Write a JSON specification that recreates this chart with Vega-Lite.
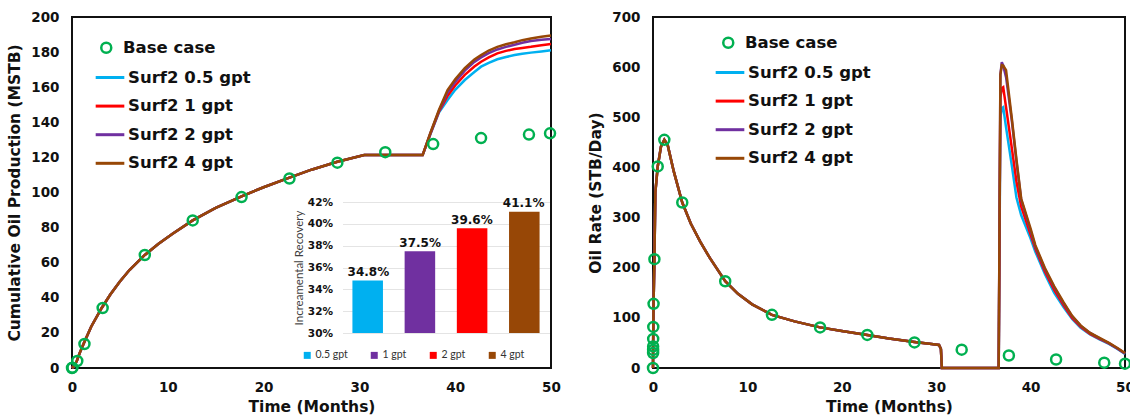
{
  "$schema": "https://vega.github.io/schema/vega-lite/v6.json",
  "background": "white",
  "padding": {"left": 6, "top": 9, "right": 0, "bottom": 0},
  "bounds": "flush",
  "spacing": 102,
  "config": {
    "view": {"stroke": "#111111", "strokeWidth": 2},
    "font": "DejaVu Sans",
    "axis": {
      "labelFont": "DejaVu Sans", "labelFontWeight": "bold", "labelFontSize": 13.5, "labelColor": "#111111",
      "titleFont": "DejaVu Sans", "titleFontWeight": "bold", "titleFontSize": 15.5, "titleColor": "#111111",
      "ticks": false, "domain": false, "grid": false,
      "labelFlush": false, "labelOverlap": false, "labelBound": false
    },
    "legend": {
      "padding": 0, "rowPadding": 3.6, "labelFont": "DejaVu Sans", "labelFontWeight": "bold",
      "labelFontSize": 16.5, "labelColor": "#111111"
    }
  },
  "datasets": {
    "cum": [
      {"t": 0, "a": 0, "b": 0, "c": 0, "d": 0},
      {"t": 0.2, "a": 1, "b": 1, "c": 1, "d": 1},
      {"t": 0.5, "a": 4, "b": 4, "c": 4, "d": 4},
      {"t": 0.8, "a": 8.5, "b": 8.5, "c": 8.5, "d": 8.5},
      {"t": 1.2, "a": 13.7, "b": 13.7, "c": 13.7, "d": 13.7},
      {"t": 2, "a": 23.5, "b": 23.5, "c": 23.5, "d": 23.5},
      {"t": 3.1, "a": 34.2, "b": 34.2, "c": 34.2, "d": 34.2},
      {"t": 4, "a": 41.9, "b": 41.9, "c": 41.9, "d": 41.9},
      {"t": 5, "a": 49.3, "b": 49.3, "c": 49.3, "d": 49.3},
      {"t": 6, "a": 55.8, "b": 55.8, "c": 55.8, "d": 55.8},
      {"t": 7.6, "a": 64.4, "b": 64.4, "c": 64.4, "d": 64.4},
      {"t": 9, "a": 70.6, "b": 70.6, "c": 70.6, "d": 70.6},
      {"t": 10.5, "a": 76.5, "b": 76.5, "c": 76.5, "d": 76.5},
      {"t": 12.6, "a": 84.1, "b": 84.1, "c": 84.1, "d": 84.1},
      {"t": 15, "a": 91.2, "b": 91.2, "c": 91.2, "d": 91.2},
      {"t": 17.7, "a": 97.8, "b": 97.8, "c": 97.8, "d": 97.8},
      {"t": 20, "a": 103, "b": 103, "c": 103, "d": 103},
      {"t": 22.7, "a": 108.5, "b": 108.5, "c": 108.5, "d": 108.5},
      {"t": 25, "a": 113, "b": 113, "c": 113, "d": 113},
      {"t": 27.7, "a": 117.5, "b": 117.5, "c": 117.5, "d": 117.5},
      {"t": 30.5, "a": 121.3, "b": 121.3, "c": 121.3, "d": 121.3},
      {"t": 36.6, "a": 121.3, "b": 121.3, "c": 121.3, "d": 121.3},
      {"t": 37.4, "a": 133, "b": 133.3, "c": 133.6, "d": 133.8},
      {"t": 38.3, "a": 145.5, "b": 146, "c": 146.5, "d": 147},
      {"t": 39.2, "a": 152.7, "b": 155, "c": 157, "d": 158.4},
      {"t": 40, "a": 158.5, "b": 161, "c": 163, "d": 164.5},
      {"t": 41, "a": 164.1, "b": 167, "c": 169.4, "d": 170.8},
      {"t": 42, "a": 168.7, "b": 171.8, "c": 174.4, "d": 175.8},
      {"t": 42.7, "a": 171.7, "b": 174.5, "c": 177, "d": 178.3},
      {"t": 43.5, "a": 173.9, "b": 177, "c": 179.4, "d": 180.9},
      {"t": 44.4, "a": 175.9, "b": 179.3, "c": 181.5, "d": 183},
      {"t": 45.3, "a": 177.2, "b": 180.7, "c": 183, "d": 184.5},
      {"t": 46.2, "a": 178.3, "b": 181.8, "c": 184.2, "d": 185.6},
      {"t": 47, "a": 179, "b": 182.4, "c": 185.3, "d": 186.8},
      {"t": 47.9, "a": 179.7, "b": 183, "c": 186.3, "d": 187.8},
      {"t": 49, "a": 180.4, "b": 183.9, "c": 187, "d": 188.8},
      {"t": 50, "a": 181, "b": 184.6, "c": 187.5, "d": 189.5}
    ],
    "cumBase": [
      {"s": "Base case", "t": 0, "v": 0},
      {"s": "Base case", "t": 0.05, "v": 0.2},
      {"s": "Base case", "t": 0.55, "v": 4},
      {"s": "Base case", "t": 1.3, "v": 13.7},
      {"s": "Base case", "t": 3.2, "v": 34.2},
      {"s": "Base case", "t": 7.6, "v": 64.4},
      {"s": "Base case", "t": 12.6, "v": 84.1},
      {"s": "Base case", "t": 17.7, "v": 97.4},
      {"s": "Base case", "t": 22.7, "v": 108},
      {"s": "Base case", "t": 27.7, "v": 117},
      {"s": "Base case", "t": 32.7, "v": 123},
      {"s": "Base case", "t": 37.7, "v": 127.6},
      {"s": "Base case", "t": 42.7, "v": 131},
      {"s": "Base case", "t": 47.7, "v": 133},
      {"s": "Base case", "t": 49.9, "v": 133.7}
    ],
    "inc": [
      {"k": "0.5 gpt", "v": 34.8, "lbl": "34.8%"},
      {"k": "1 gpt", "v": 37.5, "lbl": "37.5%"},
      {"k": "2 gpt", "v": 39.6, "lbl": "39.6%"},
      {"k": "4 gpt", "v": 41.1, "lbl": "41.1%"}
    ],
    "rate": [
      {"t": 0, "a": 0, "b": 0, "c": 0, "d": 0},
      {"t": 0.02, "a": 60, "b": 60, "c": 60, "d": 60},
      {"t": 0.06, "a": 128, "b": 128, "c": 128, "d": 128},
      {"t": 0.15, "a": 217, "b": 217, "c": 217, "d": 217},
      {"t": 0.25, "a": 350, "b": 350, "c": 350, "d": 350},
      {"t": 0.5, "a": 402, "b": 402, "c": 402, "d": 402},
      {"t": 0.85, "a": 442, "b": 442, "c": 442, "d": 442},
      {"t": 1.2, "a": 455, "b": 455, "c": 455, "d": 455},
      {"t": 1.55, "a": 445, "b": 445, "c": 445, "d": 445},
      {"t": 2.2, "a": 392, "b": 392, "c": 392, "d": 392},
      {"t": 3.1, "a": 330, "b": 330, "c": 330, "d": 330},
      {"t": 4, "a": 288, "b": 288, "c": 288, "d": 288},
      {"t": 5, "a": 252, "b": 252, "c": 252, "d": 252},
      {"t": 6, "a": 220, "b": 220, "c": 220, "d": 220},
      {"t": 7.65, "a": 173, "b": 173, "c": 173, "d": 173},
      {"t": 9, "a": 148, "b": 148, "c": 148, "d": 148},
      {"t": 10.5, "a": 127, "b": 127, "c": 127, "d": 127},
      {"t": 12.6, "a": 106, "b": 106, "c": 106, "d": 106},
      {"t": 15, "a": 93, "b": 93, "c": 93, "d": 93},
      {"t": 17.7, "a": 81, "b": 81, "c": 81, "d": 81},
      {"t": 20, "a": 74, "b": 74, "c": 74, "d": 74},
      {"t": 22.7, "a": 66, "b": 66, "c": 66, "d": 66},
      {"t": 25, "a": 59, "b": 59, "c": 59, "d": 59},
      {"t": 27.7, "a": 52, "b": 52, "c": 52, "d": 52},
      {"t": 29.5, "a": 48, "b": 48, "c": 48, "d": 48},
      {"t": 30.3, "a": 46, "b": 46, "c": 46, "d": 46},
      {"t": 30.5, "a": 38, "b": 38, "c": 38, "d": 38},
      {"t": 30.6, "a": 0, "b": 0, "c": 0, "d": 0},
      {"t": 36.62, "a": 0, "b": 0, "c": 0, "d": 0},
      {"t": 36.8, "a": 500, "b": 540, "c": 585, "d": 585},
      {"t": 36.95, "a": 518, "b": 558, "c": 610, "d": 604},
      {"t": 37.1, "a": 520, "b": 560, "c": 603, "d": 603},
      {"t": 37.4, "a": 480, "b": 520, "c": 580, "d": 594},
      {"t": 38, "a": 405, "b": 440, "c": 495, "d": 500},
      {"t": 38.5, "a": 340, "b": 372, "c": 412, "d": 416},
      {"t": 39, "a": 305, "b": 322, "c": 336, "d": 338},
      {"t": 40, "a": 258, "b": 266, "c": 274, "d": 278},
      {"t": 40.5, "a": 232, "b": 238, "c": 242, "d": 245},
      {"t": 41.5, "a": 188, "b": 193, "c": 198, "d": 200},
      {"t": 42.5, "a": 150, "b": 156, "c": 161, "d": 163},
      {"t": 43.5, "a": 121, "b": 125, "c": 129, "d": 131},
      {"t": 44.4, "a": 98, "b": 100, "c": 103, "d": 104},
      {"t": 45.3, "a": 80, "b": 82, "c": 84, "d": 85},
      {"t": 46.3, "a": 67, "b": 68, "c": 70, "d": 70},
      {"t": 47.3, "a": 57, "b": 58, "c": 59, "d": 60},
      {"t": 48.3, "a": 48, "b": 49, "c": 49, "d": 50},
      {"t": 49.2, "a": 38, "b": 39, "c": 39, "d": 40},
      {"t": 50, "a": 28, "b": 29, "c": 29, "d": 30}
    ],
    "rateBase": [
      {"s": "Base case", "t": 0, "v": 0},
      {"s": "Base case", "t": 0.01, "v": 30},
      {"s": "Base case", "t": 0.012, "v": 36},
      {"s": "Base case", "t": 0.015, "v": 43},
      {"s": "Base case", "t": 0.02, "v": 58},
      {"s": "Base case", "t": 0.03, "v": 82},
      {"s": "Base case", "t": 0.06, "v": 128},
      {"s": "Base case", "t": 0.15, "v": 217},
      {"s": "Base case", "t": 0.5, "v": 402},
      {"s": "Base case", "t": 1.2, "v": 455},
      {"s": "Base case", "t": 3.1, "v": 330},
      {"s": "Base case", "t": 7.65, "v": 173},
      {"s": "Base case", "t": 12.6, "v": 106},
      {"s": "Base case", "t": 17.7, "v": 81},
      {"s": "Base case", "t": 22.7, "v": 66},
      {"s": "Base case", "t": 27.7, "v": 51},
      {"s": "Base case", "t": 32.7, "v": 36.6},
      {"s": "Base case", "t": 37.7, "v": 25},
      {"s": "Base case", "t": 42.7, "v": 17},
      {"s": "Base case", "t": 47.8, "v": 10.6},
      {"s": "Base case", "t": 50, "v": 8.6}
    ]
  },
  "hconcat": [
    {
      "width": 479,
      "height": 351,
      "layer": [
        {
          "data": {"name": "cum"},
          "transform": [{"fold": ["a", "b", "c", "d"], "as": ["s", "v"]}],
          "mark": {"type": "line", "strokeWidth": 2.5},
          "encoding": {
            "x": {"field": "t", "type": "quantitative", "scale": {"domain": [0, 50], "nice": false},
                  "axis": {"values": [0, 10, 20, 30, 40, 50], "title": "Time (Months)", "labelPadding": 12, "titlePadding": 6, "labelOverlap": false}},
            "y": {"field": "v", "type": "quantitative", "scale": {"domain": [0, 200], "nice": false},
                  "axis": {"orient": "left", "values": [0, 20, 40, 60, 80, 100, 120, 140, 160, 180, 200], "tickCount": 11, "title": "Cumulative Oil Production (MSTB)", "labelPadding": 13, "titlePadding": 8, "labelOverlap": false}},
            "color": {"field": "s", "type": "nominal",
                      "scale": {"domain": ["a", "b", "c", "d"], "range": ["#00B0F0", "#FF0000", "#7030A0", "#974706"]},
                      "legend": {"title": null, "orient": "none", "legendX": 22, "legendY": 44.5, "symbolType": "stroke", "symbolSize": 820, "symbolStrokeWidth": 3, "labelOffset": 2,
                                 "labelExpr": "{'a': 'Surf2 0.5 gpt', 'b': 'Surf2 1 gpt', 'c': 'Surf2 2 gpt', 'd': 'Surf2 4 gpt'}[datum.label]"}}
          }
        },
        {
          "data": {"name": "cumBase"},
          "mark": {"type": "point", "filled": false, "size": 100, "strokeWidth": 2.5, "opacity": 1},
          "encoding": {
            "x": {"field": "t", "type": "quantitative", "scale": {"domain": [0, 50], "nice": false}, "axis": null},
            "y": {"field": "v", "type": "quantitative", "scale": {"domain": [0, 200], "nice": false}, "axis": null},
            "color": {"field": "s", "type": "nominal", "scale": {"domain": ["Base case"], "range": ["#00B050"]},
                      "legend": {"title": null, "orient": "none", "legendX": 26, "legendY": 22.5, "symbolType": "circle", "symbolSize": 100, "symbolStrokeWidth": 2.5, "labelOffset": 8.5}}
          }
        },
        {
          "data": {"name": "inc"},
          "mark": {"type": "bar"},
          "encoding": {
            "x": {"field": "k", "type": "nominal", "sort": null,
                  "scale": {"range": [270.5, 477.5], "paddingInner": 0.415, "paddingOuter": 0.19}, "axis": null},
            "y": {"field": "v", "type": "quantitative",
                  "scale": {"domain": [30, 42], "range": [316, 185], "nice": false, "zero": false},
                  "axis": {"orient": "left", "offset": -270.5, "values": [30, 32, 34, 36, 38, 40, 42], "labelExpr": "datum.value + '%'",
                           "labelFontSize": 10.5, "labelPadding": 10, "labelOverlap": false, "grid": true, "gridColor": "#E4E4E4", "gridWidth": 1,
                           "title": "Increamental Recovery", "titleFont": "Lato", "titleFontWeight": "normal", "titleFontSize": 11.5, "titleColor": "#404040", "titlePadding": 3}},
            "y2": {"datum": 30},
            "color": {"field": "k", "type": "nominal",
                      "scale": {"domain": ["0.5 gpt", "1 gpt", "2 gpt", "4 gpt"], "range": ["#00B0F0", "#7030A0", "#FF0000", "#974706"]},
                      "legend": {"title": null, "orient": "none", "direction": "horizontal", "legendX": 230, "legendY": 333, "rowPadding": 0,
                                 "symbolType": "square", "symbolSize": 49, "symbolStrokeWidth": 0, "labelFont": "Lato", "labelFontWeight": "normal",
                                 "labelFontSize": 10.5, "labelColor": "#333333", "labelOffset": 3, "columnPadding": 21}}
          }
        },
        {
          "data": {"name": "inc"},
          "mark": {"type": "text", "baseline": "alphabetic", "dy": -4.5, "font": "DejaVu Sans", "fontWeight": "bold", "fontSize": 12, "color": "#111111"},
          "encoding": {
            "x": {"field": "k", "type": "nominal", "sort": null,
                  "scale": {"range": [270.5, 477.5], "paddingInner": 0.415, "paddingOuter": 0.19}, "axis": null},
            "y": {"field": "v", "type": "quantitative",
                  "scale": {"domain": [30, 42], "range": [316, 185], "nice": false, "zero": false}, "axis": null},
            "text": {"field": "lbl"}
          }
        }
      ],
      "resolve": {"scale": {"x": "independent", "y": "independent", "color": "independent"}, "axis": {"x": "independent", "y": "independent"}}
    },
    {
      "width": 472,
      "height": 351,
      "layer": [
        {
          "data": {"name": "rate"},
          "transform": [{"fold": ["a", "b", "c", "d"], "as": ["s", "v"]}],
          "mark": {"type": "line", "strokeWidth": 2.5},
          "encoding": {
            "x": {"field": "t", "type": "quantitative", "scale": {"domain": [0, 50], "nice": false},
                  "axis": {"values": [0, 10, 20, 30, 40, 50], "title": "Time (Months)", "labelPadding": 12, "titlePadding": 6, "labelOverlap": false}},
            "y": {"field": "v", "type": "quantitative", "scale": {"domain": [0, 700], "nice": false},
                  "axis": {"values": [0, 100, 200, 300, 400, 500, 600, 700], "title": "Oil Rate (STB/Day)", "labelPadding": 13, "titlePadding": 8, "labelOverlap": false}},
            "color": {"field": "s", "type": "nominal",
                      "scale": {"domain": ["a", "b", "c", "d"], "range": ["#00B0F0", "#FF0000", "#7030A0", "#974706"]},
                      "legend": {"title": null, "orient": "none", "legendX": 61, "legendY": 39.5, "symbolType": "stroke", "symbolSize": 820, "symbolStrokeWidth": 3, "labelOffset": 2,
                                 "labelExpr": "{'a': 'Surf2 0.5 gpt', 'b': 'Surf2 1 gpt', 'c': 'Surf2 2 gpt', 'd': 'Surf2 4 gpt'}[datum.label]"}}
          }
        },
        {
          "data": {"name": "rateBase"},
          "mark": {"type": "point", "filled": false, "size": 100, "strokeWidth": 2.5, "opacity": 1},
          "encoding": {
            "x": {"field": "t", "type": "quantitative"},
            "y": {"field": "v", "type": "quantitative"},
            "color": {"field": "s", "type": "nominal", "scale": {"domain": ["Base case"], "range": ["#00B050"]},
                      "legend": {"title": null, "orient": "none", "legendX": 67, "legendY": 17.5, "symbolType": "circle", "symbolSize": 100, "symbolStrokeWidth": 2.5, "labelOffset": 8.5}}
          }
        }
      ],
      "resolve": {"scale": {"color": "independent"}}
    }
  ]
}
